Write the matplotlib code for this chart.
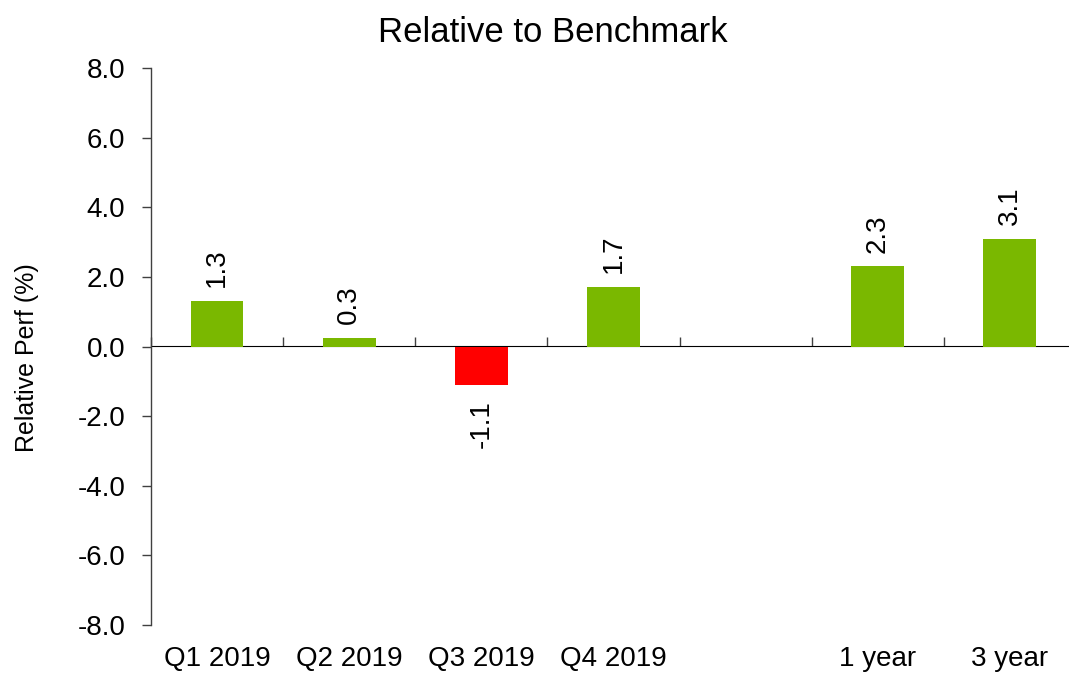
import matplotlib
matplotlib.use("Agg")
import matplotlib.pyplot as plt
import numpy as np

plt.rcParams['font.family'] = ['Liberation Sans', 'DejaVu Sans']
plt.rcParams['axes.unicode_minus'] = False

categories = ["Q1 2019", "Q2 2019", "Q3 2019", "Q4 2019", "", "1 year", "3 year"]
values = [1.3, 0.25, -1.1, 1.7, np.nan, 2.3, 3.1]
value_labels = ["1.3", "0.3", "-1.1", "1.7", "", "2.3", "3.1"]
yticks = [-8, -6, -4, -2, 0, 2, 4, 6, 8]

GREEN = "#7AB800"
RED = "#FF0000"
AXC = "#404040"

fig = plt.figure(figsize=(10.69, 6.73), dpi=100)
ax = fig.add_axes([151/1069, 1-625/673, (1076-151)/1069, (625-68)/673])

x = np.arange(len(categories))
colors = [RED if (v == v and v < 0) else GREEN for v in values]
heights = [0 if v != v else v for v in values]
bars = ax.bar(x, heights, width=0.4, color=colors, edgecolor="none", zorder=2)

for xi, v, lab in zip(x, values, value_labels):
    if v != v or lab == "":
        continue
    if v >= 0:
        ax.annotate(lab, (xi, v), xytext=(0, 10), textcoords="offset points",
                    rotation=90, ha="center", va="bottom", fontsize=20)
    else:
        ax.annotate(lab, (xi, v), xytext=(0, -11), textcoords="offset points",
                    rotation=90, ha="center", va="top", fontsize=20)

ax.set_xlim(-0.5, len(categories) - 0.5)
ax.set_ylim(-8, 8)
ax.set_yticks(yticks)
ax.set_yticklabels([f"{t:.1f}" for t in yticks])
ax.tick_params(axis='y', direction='out', length=6.5, width=1, color=AXC,
               labelsize=20, pad=12)
ax.set_xticks(x)
ax.set_xticklabels(categories)
ax.tick_params(axis='x', length=0, labelsize=20, pad=15)

for s in ['top', 'right', 'bottom']:
    ax.spines[s].set_visible(False)
ax.spines['left'].set_color(AXC)
ax.spines['left'].set_linewidth(1)

# zero axis with category boundary ticks
sec = ax.secondary_xaxis(0.5)
sec.set_xticks(np.arange(len(categories) + 1) - 0.5)
sec.set_xticklabels([])
sec.tick_params(direction='out', length=6.5, width=1, color=AXC)
sec.spines['bottom'].set_color(AXC)
sec.spines['bottom'].set_linewidth(1)

ax.set_ylabel("Relative Perf (%)", fontsize=18)
ax.yaxis.set_label_coords(-0.121, 0.48)
fig.text(553/1069, 1 - 33/673, "Relative to Benchmark", fontsize=25,
         ha="center", va="center")

fig.savefig("out.png", dpi=100)
